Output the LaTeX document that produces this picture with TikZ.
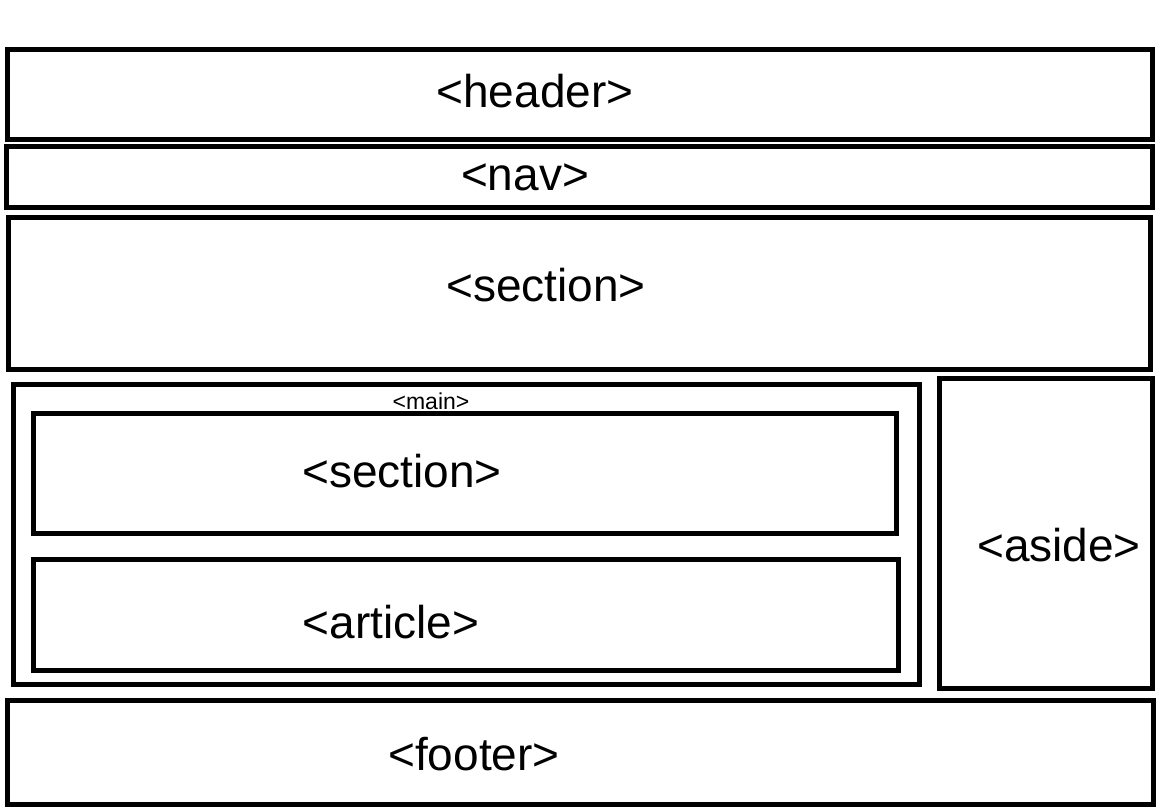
\documentclass[tikz,border=0pt]{standalone}
\usepackage{fontspec}
\setmainfont{Liberation Sans}

\begin{document}
\begin{tikzpicture}[x=1pt, y=-1pt, box/.style={draw=black, line width=5pt}, every node/.style={inner sep=0pt, outer sep=0pt, font=\fontsize{46}{50}\selectfont}]
\useasboundingbox[fill=white] (0,0) rectangle (1168,809);

\draw[box] (7.5,49.5) rectangle (1152.5,139.5);
\draw[box] (6.5,146.5) rectangle (1152.5,207.5);
\draw[box] (8,217.5) rectangle (1150.5,369.5);
\draw[box] (13.5,384.5) rectangle (919,684.5);
\draw[box] (33.5,413.5) rectangle (896,533);
\draw[box] (33.5,559) rectangle (898.5,670.5);
\draw[box] (939.5,378.5) rectangle (1152,688.5);
\draw[box] (7.5,700.5) rectangle (1153.5,804.5);

\node (header) at (535,91) {<header>};
\node (nav) at (525,177) {<nav>};
\node (section) at (546,285) {<section>};
\node[font=\fontsize{23}{25}\selectfont] (main) at (431,401) {<main>};
\node (mainsection) at (402,471) {<section>};
\node (article) at (391,622) {<article>};
\node (aside) at (1059,545) {<aside>};
\node (footer) at (474,754) {<footer>};
\end{tikzpicture}
\end{document}
